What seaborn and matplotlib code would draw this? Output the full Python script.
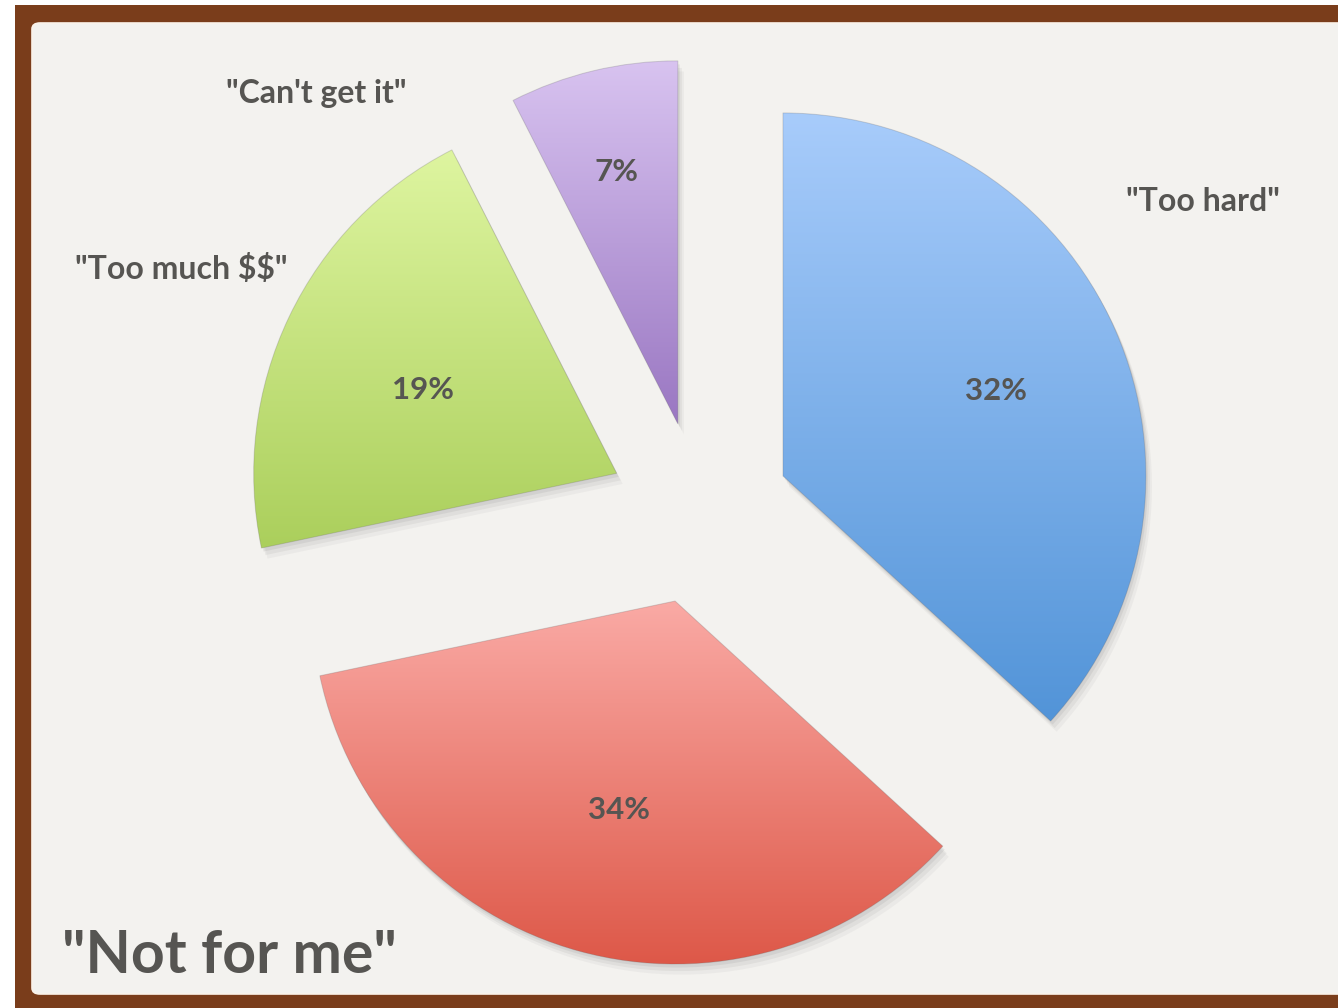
import numpy as np
import matplotlib
matplotlib.use('Agg')
import matplotlib.pyplot as plt
import matplotlib.patches as mpatches
import seaborn as sns

## ============================================================
## data (slice sizes, labels as printed)

categories = ['"Too hard"', '"Not for me"', '"Too much $$"', '"Can\'t get it"']
shares = [36.8, 34.9, 20.8, 7.5]
pct_labels = ['32%', '34%', '19%', '7%']
show_label = [True, False, True, True]

## ============================================================
## styles

top_colors = ['#a8ccfb', '#faaaa5', '#def5a0', '#d8c3f0']
bottom_colors = ['#5294d8', '#dd5747', '#abcf5c', '#9a77c2']
pct_dist = [0.64, 0.59, 0.59, 0.72]
pct_nudge = [-4.5, 0., -4.5, 0.]   # points, vertical
label_pos = [(1.388, 0.831), None, (-1.426, 0.644), (-1.054, 1.129)]
TEXT = '#565552'

sns.set_theme(style='white')
plt.rcParams['font.family'] = ['Lato', 'DejaVu Sans']
plt.rcParams['text.parse_math'] = False

fig = plt.figure(figsize=(13.38, 10.08), dpi=100)
fig.patch.set_facecolor('white')
ax = fig.add_axes([0, 0, 1, 1])
ax.set_axis_off()

## frame + paper
W, H = 1338., 1008.
ax.add_patch(mpatches.Rectangle((15/W, 0), 1., 1 - 5/H, transform=ax.transAxes,
		facecolor='#7a3d1b', edgecolor='none', zorder=-10))
ax.add_patch(mpatches.FancyBboxPatch((32/W, 14/H), 1.1, 1 - 23/H - 14/H,
		boxstyle='round,pad=0,rounding_size=0.006', transform=ax.transAxes,
		facecolor='#f3f2ef', edgecolor='#fbf3ea', linewidth=1.2, zorder=-9))

## ============================== ##

wedges, _ = ax.pie(shares, startangle=90, counterclock=False, radius=1.,
		explode=[0.252] * len(shares), colors=top_colors,
		wedgeprops=dict(linewidth=0))

for i, w in enumerate(wedges):
	verts = w.get_path().vertices
	x0, x1 = verts[:, 0].min(), verts[:, 0].max()
	y0, y1 = verts[:, 1].min(), verts[:, 1].max()

	# soft drop shadow
	for k, a in enumerate([0.09, 0.07, 0.05]):
		sh = mpatches.Shadow(w, 0.004 * (k + 1), -0.007 * (k + 1),
				facecolor='#555555', edgecolor='none', alpha=a, zorder=0.5)
		ax.add_patch(sh)

	# vertical gradient, light at the top
	cmap = sns.blend_palette([bottom_colors[i], top_colors[i]], as_cmap=True)
	grad = np.linspace(0, 1, 256).reshape(-1, 1)
	im = ax.imshow(grad, extent=[x0, x1, y0, y1], origin='lower', cmap=cmap,
			aspect='auto', zorder=1.5, interpolation='bicubic')
	im.set_clip_path(w)

	w.set_facecolor('none')
	w.set_edgecolor((0.4, 0.4, 0.4, 0.25))
	w.set_linewidth(0.7)
	w.set_zorder(2)

	# percentage inside the slice
	thetam = np.deg2rad(0.5 * (w.theta1 + w.theta2))
	cx, cy = w.center
	ax.annotate(pct_labels[i],
			xy=(cx + pct_dist[i] * w.r * np.cos(thetam), cy + pct_dist[i] * w.r * np.sin(thetam)),
			xytext=(0, pct_nudge[i]), textcoords='offset points',
			ha='center', va='center_baseline', fontsize=22.5, fontweight='bold',
			color=TEXT, zorder=3)

	if show_label[i]:
		ax.text(label_pos[i][0], label_pos[i][1], categories[i], ha='center', va='baseline',
				fontsize=23, fontweight='bold', color=TEXT, zorder=3)

## title, bottom left
ax.text(62/W, 35/H, categories[1], transform=ax.transAxes, ha='left', va='baseline',
		fontsize=42.5, fontweight='bold', color=TEXT, zorder=3)

# 1 data unit = 363 px, pie centre at (699, 513) px from top-left
R = 363.
ax.set_xlim(-699.2 / R, (W - 699.2) / R)
ax.set_ylim(-(H - 512.8) / R, 512.8 / R)
ax.set_aspect('auto')

fig.savefig('out.png', dpi=100)
